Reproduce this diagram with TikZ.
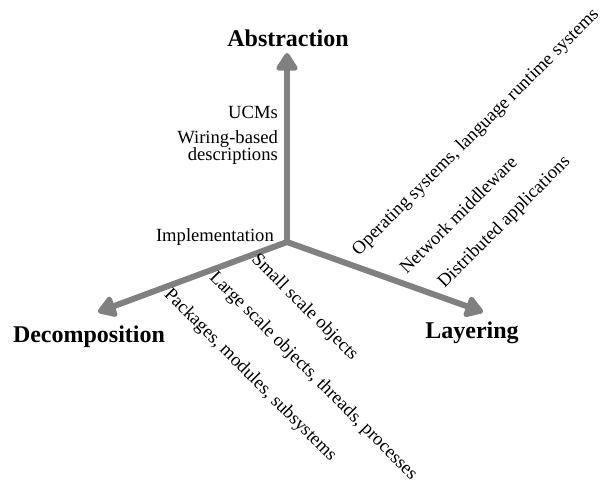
\documentclass[tikz,border=0pt]{standalone}
\usepackage{fontspec}
\setmainfont{Liberation Serif}
\usetikzlibrary{arrows.meta}
\definecolor{axisgray}{RGB}{128,128,128}
\begin{document}
\begin{tikzpicture}[x=1pt,y=-1pt,
  axis/.style={draw=axisgray, line width=6pt, line cap=round,
    -{Triangle[length=20pt,width=24pt,round=false]}},
  axisname/.style={font=\fontsize{24}{28}\selectfont\bfseries, inner sep=0pt},
  lvl/.style={font=\fontsize{18.6}{17}\selectfont, inner sep=0pt}]
\useasboundingbox (0,0) rectangle (604,482);

% the three axes, meeting at the origin
\coordinate (o) at (287,242);
\coordinate (absTip) at (287,53);
\coordinate (decTip) at (98,312);
\coordinate (layTip) at (483,312);
\draw[axis] (o) -- (absTip);
\draw[axis] (o) -- (decTip);
\draw[axis] (o) -- (layTip);

% axis names
\node[axisname, anchor=base] (abs) at (288,46) {Abstraction};
\node[axisname, anchor=base] (dec) at (89,342) {Decomposition};
\node[axisname, anchor=base] (lay) at (472,338) {Layering};

% abstraction levels
\node[lvl, anchor=base east] (ucm) at (278,118) {UCMs};
\node[lvl, anchor=base east, align=right] (wir) at (278,160) {Wiring-based\\descriptions};
\node[lvl, anchor=base east] (impl) at (274,241) {Implementation};

% decomposition levels
\node[lvl, rotate=-45] (small) at (304.5,307.5) {Small scale objects};
\node[lvl, rotate=-45] (large) at (313,376) {Large scale objects, threads, processes};
\node[lvl, rotate=-45] (pack) at (250,375.5) {Packages, modules, subsystems};

% layering levels
\node[lvl, rotate=45] (os) at (476,132.5) {Operating systems, language runtime systems};
\node[lvl, rotate=45] (mw) at (458,214.5) {Network middleware};
\node[lvl, rotate=45] (da) at (504.5,222.5) {Distributed applications};
\end{tikzpicture}
\end{document}
